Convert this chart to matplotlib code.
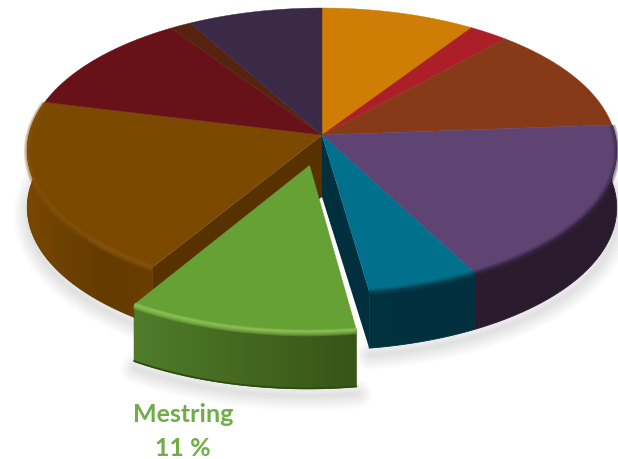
import numpy as np
import matplotlib
matplotlib.use("Agg")
import matplotlib.pyplot as plt
from matplotlib.patches import Polygon
from matplotlib.colors import LinearSegmentedColormap as LSC

# ---- data (percent, clockwise from 12 o'clock) ----
slices = ["a", "b", "c", "d", "e", "Mestring", "g", "h", "i", "j"]
values = [9.4, 2.4, 12.1, 18.4, 5.5, 11.1, 20.1, 11.7, 1.3, 8.2]
label_name = "Mestring"
label_value = "11 %"
explode_slice = "Mestring"

# ---- style ----
top_colors = ["#CF7D05", "#AD1F28", "#873A17", "#5E4373", "#00708C",
              "#66A136", "#7B4A00", "#691118", "#55230F", "#3A2A47"]
wall_colors = {
    "d": ["#2A1B2E", "#2A1B2E", "#2A1B2E"],
    "e": ["#00333F", "#002F3D", "#00303E"],
    "Mestring": ["#4F7D2A", "#43681F", "#385418"],
    "g": ["#7A4800", "#6C4000", "#643B00", "#6A3E00"],
}
rim_colors = {"d": ("#3E2B4C", 0.18), "e": ("#00505F", 0.18),
              "Mestring": ("#93C85A", 0.28), "g": ("#8A5510", 0.16)}
cut_color = {"e": "#00303E", "g": "#573200"}

CX, CY, A, B, K = 322.0, 135.0, 293.0, 140.8, 0.1087
H, H_CENTER, EXPLODE = 57.0, 62.0, 0.229
GREEN_SHIFT = (1.5, -2.0)

fig = plt.figure(figsize=(6.18, 4.59), dpi=100)
ax = fig.add_axes([0, 0, 1, 1])
ax.set_axis_off()


def project(u, v, dz=0.0):
    d = 1 + K * np.asarray(v)
    return CX + A * np.asarray(u) / d, CY - B * np.asarray(v) / d + dz


fr = np.array(values) / sum(values) * 360
edges = np.concatenate([[0], np.cumsum(fr)])
info = {}
for s, t0, t1, c in zip(slices, edges[:-1], edges[1:], top_colors):
    mid = np.radians((t0 + t1) / 2)
    off = (EXPLODE * np.sin(mid), EXPLODE * np.cos(mid)) if s == explode_slice else (0, 0)
    info[s] = dict(t0=t0, t1=t1, c=c, off=off)


def arc(s, r=1.0, dz=0.0, n=60, frac=(0.0, 1.0)):
    i = info[s]
    span = i["t1"] - i["t0"]
    th = np.radians(np.linspace(i["t0"] + frac[0] * span, i["t0"] + frac[1] * span, n))
    x, y = project(r * np.sin(th) + i["off"][0], r * np.cos(th) + i["off"][1], dz)
    pts = np.column_stack([x, y])
    if s == explode_slice:
        pts = pts + GREEN_SHIFT
    return pts


def centre(s, dz=0.0):
    i = info[s]
    x, y = project(i["off"][0], i["off"][1], dz)
    pt = np.array([[x, y]])
    if s == explode_slice:
        pt = pt + GREEN_SHIFT
    return pt


def grad_fill(poly, cols, z):
    x0, x1 = poly[:, 0].min(), poly[:, 0].max()
    y0, y1 = poly[:, 1].min(), poly[:, 1].max()
    im = ax.imshow(np.linspace(0, 1, 256)[None, :], cmap=LSC.from_list("w", cols),
                   extent=(x0, x1, y1, y0), aspect="auto",
                   interpolation="bilinear", zorder=z)
    p = Polygon(poly, closed=True, transform=ax.transData, fc="none", ec="none")
    im.set_clip_path(p)
    ax.add_patch(Polygon(poly, closed=True, fc="none", ec=cols[len(cols) // 2],
                         lw=0.6, zorder=z))


# soft shadow (one stroke per connected run of the outer edge)
runs = [np.vstack([arc("d", dz=H), arc("e", dz=H)]),
        arc("Mestring", dz=H), arc("g", dz=H)]
for a in runs:
    for lw in np.arange(2, 32, 3):
        ax.plot(a[:, 0] + 1, a[:, 1] + 7, color="#666666",
                lw=lw * 0.72, alpha=0.018, zorder=1, solid_capstyle="round")

# outer walls of the non exploded slices
for s, z in [("g", 3), ("d", 3), ("e", 4)]:
    top, bot = arc(s), arc(s, dz=H)
    grad_fill(np.vstack([top, bot[::-1]]), wall_colors[s], z)

# cut faces of the neighbours of the exploded slice
i_t = arc("e")[-1]
ax.add_patch(Polygon(np.vstack([centre("e"), [i_t], [i_t + (0, H)],
                                centre("e", H_CENTER)]),
                     fc=cut_color["e"], ec="none", zorder=5))
i_g = arc("g")[0]
ax.add_patch(Polygon(np.vstack([centre("g"), [i_g], [i_g + (0, H)],
                                centre("g", H_CENTER)]),
                     fc=cut_color["g"], ec="none", zorder=5))


def rim(s, z, frac=(0.0, 1.0)):
    col, al = rim_colors[s]
    for k, lw in enumerate([5, 4, 3, 2, 1.2]):
        a = arc(s, dz=1.0 - 0.2 * k, frac=frac)
        ax.plot(a[:, 0], a[:, 1], color=col, lw=lw, alpha=al,
                zorder=z, solid_capstyle="butt")


# top faces of the body
for s in slices:
    if s == explode_slice:
        continue
    i = info[s]
    ax.add_patch(Polygon(np.vstack([centre(s), arc(s)]), fc=i["c"], ec=i["c"],
                         lw=0.3, zorder=6))
rim("g", 7)
rim("g", 7, frac=(0.0, 0.22))
for s in ["d", "e"]:
    rim(s, 7)

# exploded slice
s = explode_slice
top, bot = arc(s), arc(s, dz=H)
grad_fill(np.vstack([top, bot[::-1]]), wall_colors[s], 8)
ax.plot(bot[:, 0], bot[:, 1] - 0.5, color="#2E4A12", lw=1.2, zorder=9)
ax.add_patch(Polygon(np.vstack([centre(s), top]), fc=info[s]["c"], ec=info[s]["c"],
                     lw=0.3, zorder=10))
rim(s, 11)

ax.text(183, 415, label_name, color="#70AD47", fontsize=18, fontweight="bold",
        family="Lato", ha="center", va="center", zorder=12)
ax.text(183, 448, label_value, color="#70AD47", fontsize=18, fontweight="bold",
        family="Lato", ha="center", va="center", zorder=12)

ax.set_xlim(0, 618)
ax.set_ylim(459, 0)
fig.savefig("out.png", dpi=100, facecolor="white")
